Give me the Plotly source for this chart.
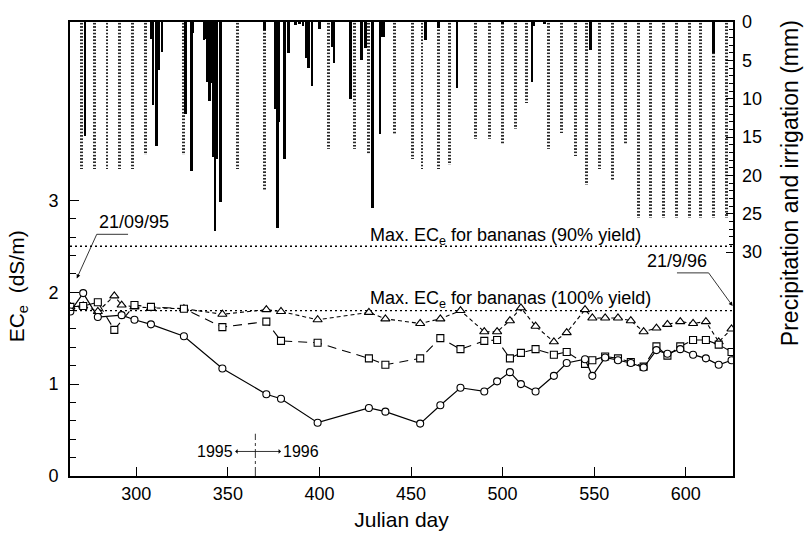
import plotly.graph_objects as go

# ---------------- data ----------------
sample_days = [264, 271, 279, 288, 292, 299, 308, 326, 347, 371, 379, 399, 427, 436, 455, 466, 477,
               490, 497, 504, 510, 518, 528, 535, 545, 549, 556, 563, 570, 577, 584, 590, 597, 604,
               611, 618, 625]
ec_circle = [1.79, 1.99, 1.73, None, 1.75, 1.70, 1.65, 1.52, 1.17, 0.89, 0.84, 0.58, 0.74, 0.70, 0.57,
             0.77, 0.96, 0.92, 1.03, 1.13, 1.00, 0.92, 1.09, 1.23, 1.27, 1.09, 1.29, 1.26, 1.23, 1.18,
             1.37, 1.33, 1.38, 1.32, 1.28, 1.21, 1.26]
ec_square = [1.84, 1.85, 1.89, 1.59, None, 1.86, 1.84, 1.82, 1.62, 1.68, 1.47, 1.45, 1.28, 1.21, 1.28,
             1.50, 1.38, 1.47, 1.48, 1.28, 1.34, 1.38, 1.32, 1.35, 1.22, 1.26, 1.30, 1.28, 1.24, 1.19,
             1.41, 1.31, 1.41, 1.48, 1.48, 1.43, 1.35]
ec_triangle = [1.84, 1.85, 1.79, 1.96, 1.86, 1.84, 1.83, 1.82, 1.76, 1.81, 1.79, 1.70, 1.78, 1.71, 1.66,
               1.71, 1.80, 1.57, 1.57, 1.69, 1.83, 1.63, 1.46, 1.56, 1.81, 1.72, 1.72, 1.72, 1.69, 1.57,
               1.61, 1.65, 1.68, 1.66, 1.68, 1.46, 1.60]

precip_days = [272, 308, 309, 311, 312, 314, 327, 330, 331, 337, 338, 339, 340, 341, 342, 343, 344, 346,
               370, 376, 377, 378, 381, 383, 387, 389, 391, 393, 394, 396, 400, 407, 408, 417, 423, 425,
               429, 433, 434, 435, 458, 465, 475, 500, 516, 517, 523, 548, 615]
precip_mm = [14.8, 2.2, 10.8, 16.2, 6.3, 3.9, 12.0, 19.4, 1.4, 2.4, 2.2, 7.8, 10.3, 8.0, 17.6, 27.2, 17.8,
             23.5, 1.1, 11.4, 26.8, 13.0, 17.9, 4.0, 0.4, 0.3, 0.5, 4.7, 6.0, 8.4, 0.9, 3.2, 5.4, 10.1,
             5.0, 3.4, 24.3, 14.6, 2.0, 2.0, 2.3, 0.8, 8.6, 0.2, 7.8, 0.5, 0.3, 3.7, 4.0]

irrig_days = [270, 277, 284, 291, 298, 305, 326, 355, 370, 405, 419, 427, 441, 451, 456, 465, 471, 485,
              493, 500, 507, 513, 525, 532, 540, 546, 553, 560, 567, 574, 581, 588, 595, 602, 608, 615, 622]
irrig_mm = [19.2, 19.2, 19.2, 19.2, 19.2, 17.4, 17.4, 19.2, 21.9, 16.5, 16.5, 17.2, 14.6, 17.9, 19.2,
            19.2, 18.6, 15.2, 15.3, 15.9, 14.0, 10.6, 16.6, 14.5, 17.5, 21.2, 19.2, 20.6, 15.9, 25.5,
            25.5, 25.5, 25.5, 25.5, 25.5, 25.5, 25.5]

ec_limit_90 = 2.5
ec_limit_100 = 1.8
x_ticks = [300, 350, 400, 450, 500, 550, 600]
ec_ticks = [0, 1, 2, 3]
pr_ticks = [0, 5, 10, 15, 20, 25, 30]

FONT = "Liberation Sans, Arial, Helvetica, sans-serif"

fig = go.Figure()

# irrigation (dotted bars)
fig.add_trace(go.Bar(
    x=irrig_days, y=irrig_mm, yaxis="y2", width=1.6,
    marker=dict(color="black", line=dict(width=0),
                pattern=dict(shape="-", size=3.3, solidity=0.42, fgcolor="black",
                             bgcolor="rgba(0,0,0,0)", fillmode="replace")),
    showlegend=False))
# precipitation (solid bars)
fig.add_trace(go.Bar(
    x=precip_days, y=precip_mm, yaxis="y2", width=1.4,
    marker=dict(color="black", line=dict(width=0)), showlegend=False))

# EC series
fig.add_trace(go.Scatter(
    x=sample_days, y=ec_triangle, mode="lines+markers", connectgaps=True,
    line=dict(color="black", width=1.1, dash="4px,3px"),
    marker=dict(symbol="triangle-up", size=8, color="white", line=dict(color="black", width=1.1)),
    showlegend=False))
fig.add_trace(go.Scatter(
    x=sample_days, y=ec_square, mode="lines+markers", connectgaps=True,
    line=dict(color="black", width=1.1, dash="9px,6px"),
    marker=dict(symbol="square", size=7, color="white", line=dict(color="black", width=1.1)),
    showlegend=False))
fig.add_trace(go.Scatter(
    x=sample_days, y=ec_circle, mode="lines+markers", connectgaps=True,
    line=dict(color="black", width=1.2),
    marker=dict(symbol="circle", size=7, color="white", line=dict(color="black", width=1.1)),
    showlegend=False))

shapes = []
for lim in (ec_limit_90, ec_limit_100):
    shapes.append(dict(type="line", xref="paper", x0=0, x1=1, yref="y", y0=lim, y1=lim,
                       line=dict(color="black", width=1.3, dash="2px,3px"), layer="below"))
# year divider
shapes.append(dict(type="line", xref="x", x0=365, x1=365, yref="y", y0=0, y1=0.46,
                   line=dict(color="black", width=0.8, dash="dashdot")))
# leader underlines
shapes.append(dict(type="line", xref="x", yref="y", x0=278.4, x1=295.5, y0=2.63, y1=2.63,
                   line=dict(color="black", width=0.8)))
shapes.append(dict(type="line", xref="x", yref="y", x0=595.2, x1=612.5, y0=2.21, y1=2.21,
                   line=dict(color="black", width=0.8)))

ann_font = dict(family=FONT, size=18, color="black")
arrow_kw = dict(showarrow=True, arrowhead=2, arrowsize=1, arrowwidth=0.8, arrowcolor="black",
                axref="x", ayref="y", xref="x", yref="y")
annotations = [
    dict(x=426.5, y=2.61, xref="x", yref="y", text="Max. EC<sub>e</sub> for bananas (90% yield)",
         showarrow=False, xanchor="left", yanchor="middle", font=ann_font),
    dict(x=426.5, y=1.925, xref="x", yref="y", text="Max. EC<sub>e</sub> for bananas (100% yield)",
         showarrow=False, xanchor="left", yanchor="middle", font=ann_font),
    dict(x=267.5, y=2.15, ax=278.4, ay=2.63, text="21/09/95", xanchor="left", yanchor="bottom",
         font=ann_font, **arrow_kw),
    dict(x=625.6, y=1.85, ax=612.5, ay=2.21, text="21/9/96", xanchor="right", yanchor="bottom",
         font=ann_font, **arrow_kw),
    dict(x=365, y=0.267, ax=354.0, ay=0.267, text="1995", xanchor="right", yanchor="middle",
         arrowside="start", font=dict(family=FONT, size=16, color="black"),
         **{**arrow_kw, "arrowsize": 0.9}),
    dict(x=365, y=0.267, ax=379.0, ay=0.267, text="1996", xanchor="left", yanchor="middle",
         arrowside="start", font=dict(family=FONT, size=16, color="black"),
         **{**arrow_kw, "arrowsize": 0.9}),
    # axis titles
    dict(x=18, y=283, xref="paper", yref="paper", text="EC<sub>e</sub>  (dS/m)", showarrow=False,
         textangle=-90, font=dict(family=FONT, size=21, color="black")),
    dict(x=790, y=178, xref="paper", yref="paper", text="Precipitation and irrigation (mm)",
         showarrow=False, textangle=-90, font=dict(family=FONT, size=23, color="black")),
]

# convert pixel positions of axis titles to paper coords
W, H = 805, 542
ML, MR, MT, MB = 70, 72, 14, 66
pw, ph = W - ML - MR, H - MT - MB
for a in annotations[-2:]:
    px, py = a["x"], a["y"]
    a["x"] = (px - ML) / pw
    a["y"] = 1 - (py - MT) / ph
    a["xanchor"] = "center"
    a["yanchor"] = "middle"

minor_ec = [round(0.2 * i, 1) for i in range(16) if i % 5 != 0]
minor_pr = [i for i in range(31) if i % 5 != 0]

fig.update_layout(
    width=W, height=H,
    margin=dict(l=ML, r=MR, t=MT, b=MB),
    plot_bgcolor="white", paper_bgcolor="white",
    barmode="overlay", bargap=0,
    font=dict(family=FONT, size=18, color="black"),
    xaxis=dict(range=[263.8, 625.8], tickvals=x_ticks, ticks="inside", ticklen=9, tickwidth=1,
               tickcolor="black", showline=True, linecolor="black", linewidth=2, mirror=True,
               showgrid=False, zeroline=False, tickfont=dict(size=18),
               title=dict(text="Julian day", font=dict(size=21), standoff=10)),
    yaxis=dict(range=[0, 4.94], tickvals=ec_ticks, ticks="inside", ticklen=9, tickwidth=1,
               tickcolor="black", showline=True, linecolor="black", linewidth=2, mirror=True,
               showgrid=False, zeroline=False, tickfont=dict(size=18), ticklabelstandoff=6,
               minor=dict(tickvals=minor_ec, ticks="inside", ticklen=6, tickcolor="black",
                          showgrid=False)),
    yaxis2=dict(overlaying="y", side="right", range=[59.2, 0], tickvals=pr_ticks, ticks="inside",
                ticklen=7, tickwidth=1, tickcolor="black", showline=False, showgrid=False,
                zeroline=False, tickfont=dict(size=18), ticklabelstandoff=8,
                minor=dict(tickvals=minor_pr, ticks="inside", ticklen=4, tickcolor="black",
                           showgrid=False)),
    shapes=shapes,
    annotations=annotations,
)

fig.write_html("out.html")
